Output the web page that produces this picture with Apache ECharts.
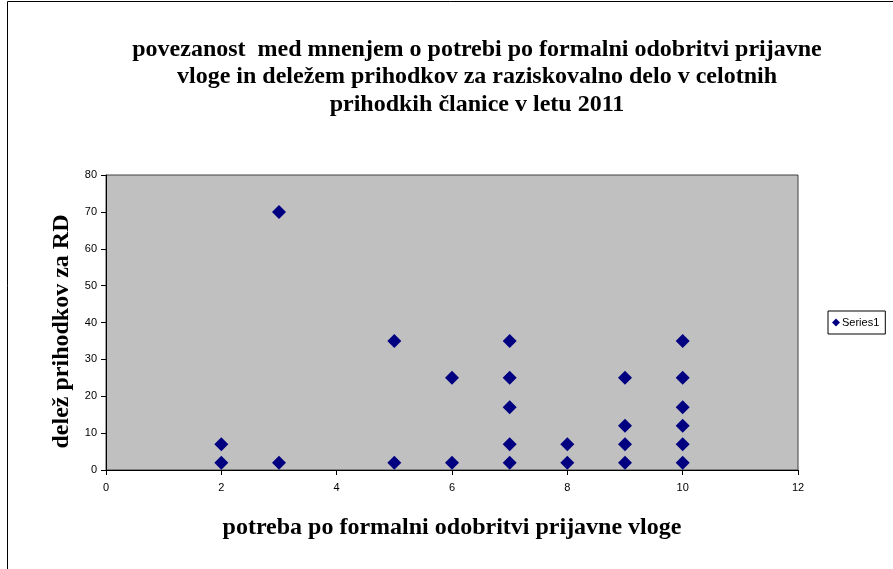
<!DOCTYPE html>
<html>
<head>
<meta charset="utf-8">
<script src="https://cdn.jsdelivr.net/npm/echarts@6/dist/echarts.min.js"></script>
<style>
html,body{margin:0;padding:0;background:#fff;}
#main{width:893px;height:569px;}
</style>
</head>
<body>
<div id="main"></div>
<script>
const xValues = [2, 2, 3, 3, 5, 5, 6, 6, 7, 7, 7, 7, 7, 8, 8, 9, 9, 9, 9, 10, 10, 10, 10, 10, 10];
const yValues = [7, 2, 70, 2, 35, 2, 25, 2, 35, 25, 17, 7, 2, 7, 2, 25, 12, 7, 2, 35, 25, 17, 12, 7, 2];
const seriesName = 'Series1';
const titleText = 'povezanost  med mnenjem o potrebi po formalni odobritvi prijavne\nvloge in deležem prihodkov za raziskovalno delo v celotnih\nprihodkih članice v letu 2011';
const xTitle = 'potreba po formalni odobritvi prijavne vloge';
const yTitle = 'delež prihodkov za RD';

const points = xValues.map((x, i) => [x, yValues[i]]);
const chart = echarts.init(document.getElementById('main'));
chart.setOption({
  animation: false,
  backgroundColor: '#fff',
  title: {
    text: titleText,
    left: 472, top: 31, textAlign: 'center',
    textStyle: {fontFamily: 'Liberation Serif', fontWeight: 'bold', fontSize: 24, lineHeight: 27.5, color: '#000'}
  },
  legend: {
    data: [{name: seriesName, icon: 'diamond'}],
    left: 828, top: 311,
    itemWidth: 8, itemHeight: 8, itemGap: 2,
    padding: [6, 6, 6, 4],
    borderColor: '#000', borderWidth: 1,
    textStyle: {fontFamily: 'Liberation Sans', fontSize: 11, color: '#000', padding: [0,0,0,-3]}
  },
  grid: {left: 106, top: 175, right: 95, bottom: 99, show: true, backgroundColor: '#c0c0c0', borderColor: '#404040', borderWidth: 1},
  xAxis: {
    type: 'value', min: 0, max: 12, interval: 2,
    name: xTitle, nameLocation: 'middle', nameGap: 46,
    nameTextStyle: {fontFamily: 'Liberation Serif', fontWeight: 'bold', fontSize: 24, color: '#000'},
    axisLine: {lineStyle: {color: '#000'}},
    axisTick: {show: true, inside: false, length: 5, lineStyle: {color: '#000'}},
    axisLabel: {fontFamily: 'Liberation Sans', fontSize: 11, color: '#000', margin: 12},
    splitLine: {show: false}
  },
  yAxis: {
    type: 'value', min: 0, max: 80, interval: 10,
    name: yTitle, nameLocation: 'middle', nameGap: 32, nameRotate: 90,
    nameTextStyle: {fontFamily: 'Liberation Serif', fontWeight: 'bold', fontSize: 24, color: '#000', padding: [0, 18, 0, 0]},
    axisLine: {show: true, lineStyle: {color: '#000'}},
    axisTick: {show: true, inside: false, length: 5, lineStyle: {color: '#000'}},
    axisLabel: {fontFamily: 'Liberation Sans', fontSize: 11, color: '#000', margin: 9},
    splitLine: {show: false}
  },
  graphic: [{
    type: 'rect', silent: true,
    shape: {x: 7.5, y: 1.5, width: 900, height: 600},
    style: {fill: 'none', stroke: '#000', lineWidth: 1}
  }],
  series: [{
    name: seriesName, type: 'scatter', data: points,
    symbol: 'diamond', symbolSize: 14,
    itemStyle: {color: '#000080', opacity: 1}
  }]
});
</script>
</body>
</html>
